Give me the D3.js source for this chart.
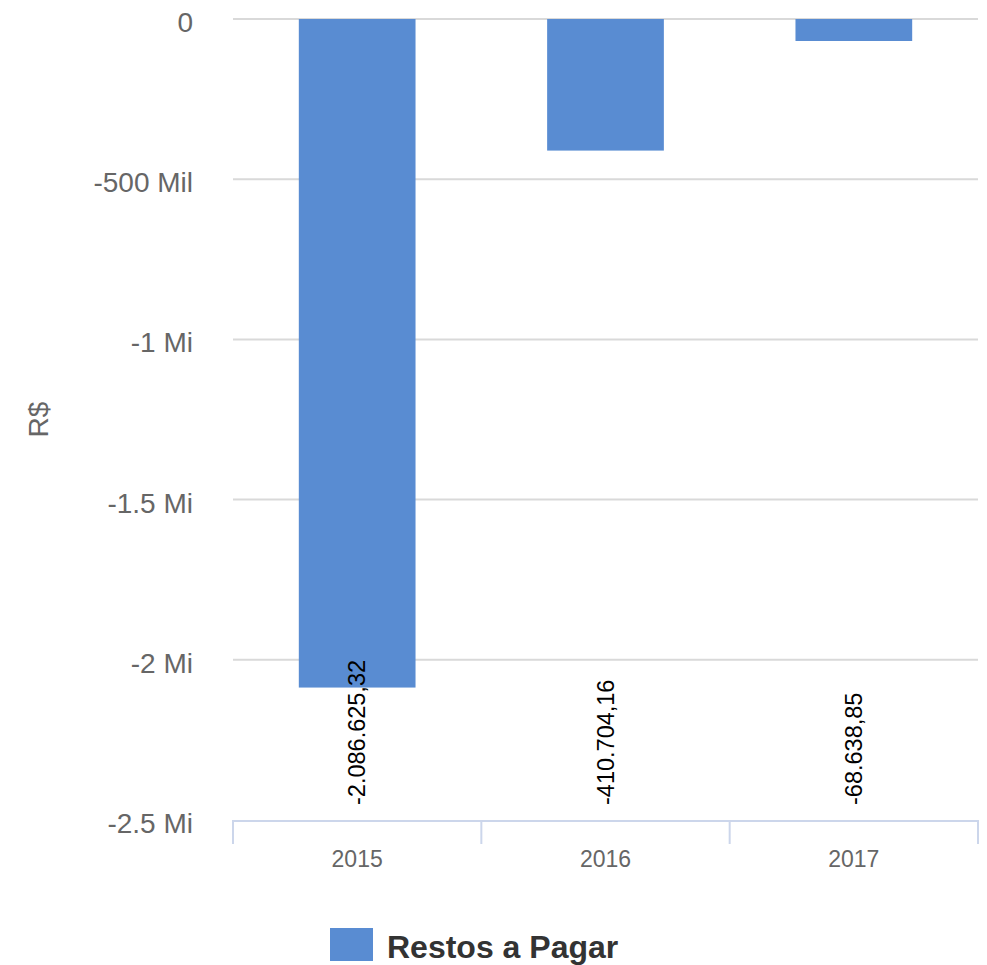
<!DOCTYPE html>
<html>
<head>
<meta charset="utf-8">
<script src="https://cdn.jsdelivr.net/npm/d3@7"></script>
<style>
  html, body { margin: 0; padding: 0; background: #fff; }
  svg { font-family: "Liberation Sans", Arial, sans-serif; display: block; }
</style>
</head>
<body>
<div id="chart"></div>
<script>
// Data
var categories = ['2015', '2016', '2017']
var values = [-2086625.32, -410704.16, -68638.85]
var yTicks = [0, -500000, -1000000, -1500000, -2000000, -2500000]
var yTickLabels = ['0', '-500 Mil', '-1 Mi', '-1.5 Mi', '-2 Mi', '-2.5 Mi']
var seriesName = 'Restos a Pagar'

var width = 987
var height = 965
var plot = { left: 233, right: 978, top: 19, bottom: 820 }
var barColor = '#598cd2'

var svg = d3.select('#chart').append('svg')
  .attr('width', width)
  .attr('height', height)

var x = d3.scaleBand()
  .domain(categories)
  .range([plot.left, plot.right])

var y = d3.scaleLinear()
  .domain([0, -2500000])
  .range([plot.top, plot.bottom])

// Grid lines (skip the bottom one, the x axis line sits there)
svg.append('g').selectAll('line')
  .data(yTicks.slice(0, -1))
  .enter().append('line')
  .attr('x1', plot.left)
  .attr('x2', plot.right)
  .attr('y1', function (d) { return y(d) })
  .attr('y2', function (d) { return y(d) })
  .attr('stroke', '#d9d9d9')
  .attr('stroke-width', 2)

// Y tick labels
svg.append('g').selectAll('text')
  .data(yTicks)
  .enter().append('text')
  .attr('x', 193)
  .attr('y', function (d) { return y(d) + 13 })
  .attr('text-anchor', 'end')
  .attr('fill', '#666')
  .style('font-size', '28px')
  .text(function (d, i) { return yTickLabels[i] })

// Y axis title
svg.append('text')
  .attr('transform', 'translate(48,' + ((plot.top + plot.bottom) / 2) + ')rotate(-90)')
  .attr('text-anchor', 'middle')
  .attr('fill', '#666')
  .style('font-size', '28px')
  .text('R$')

// Bars
var barWidth = x.bandwidth() * 0.47
svg.append('g').selectAll('rect')
  .data(values)
  .enter().append('rect')
  .attr('x', function (d, i) { return x(categories[i]) + (x.bandwidth() - barWidth) / 2 })
  .attr('y', y(0))
  .attr('width', barWidth)
  .attr('height', function (d) { return y(d) - y(0) })
  .attr('fill', barColor)

// X axis line and ticks
svg.append('line')
  .attr('x1', plot.left)
  .attr('x2', plot.right)
  .attr('y1', plot.bottom + 1)
  .attr('y2', plot.bottom + 1)
  .attr('stroke', '#ccd6eb')
  .attr('stroke-width', 2)

var tickPos = categories.map(function (c) { return x(c) }).concat([plot.right])
svg.append('g').selectAll('line')
  .data(tickPos)
  .enter().append('line')
  .attr('x1', function (d) { return d })
  .attr('x2', function (d) { return d })
  .attr('y1', plot.bottom)
  .attr('y2', plot.bottom + 24)
  .attr('stroke', '#ccd6eb')
  .attr('stroke-width', 2)

// Category labels
svg.append('g').selectAll('text')
  .data(categories)
  .enter().append('text')
  .attr('x', function (d) { return x(d) + x.bandwidth() / 2 })
  .attr('y', 867)
  .attr('text-anchor', 'middle')
  .attr('fill', '#666')
  .style('font-size', '23px')
  .text(function (d) { return d })

// Data labels, rotated, anchored near the axis
var fmt = d3.formatLocale({ decimal: ',', thousands: '.', grouping: [3], currency: ['R$', ''], minus: '-' }).format(',.2f')
svg.append('g').selectAll('text')
  .data(values)
  .enter().append('text')
  .attr('transform', function (d, i) {
    return 'translate(' + (x(categories[i]) + x.bandwidth() / 2 + 8) + ',805)rotate(-90)'
  })
  .attr('text-anchor', 'start')
  .attr('fill', '#000')
  .style('font-size', '23.5px')
  .text(function (d) { return fmt(d) })

// Legend
var legend = svg.append('g')
legend.append('rect')
  .attr('x', 330)
  .attr('y', 928)
  .attr('width', 43)
  .attr('height', 33)
  .attr('fill', barColor)
legend.append('text')
  .attr('x', 387)
  .attr('y', 958)
  .attr('fill', '#333')
  .style('font-size', '32px')
  .style('font-weight', 'bold')
  .text(seriesName)
</script>
</body>
</html>
